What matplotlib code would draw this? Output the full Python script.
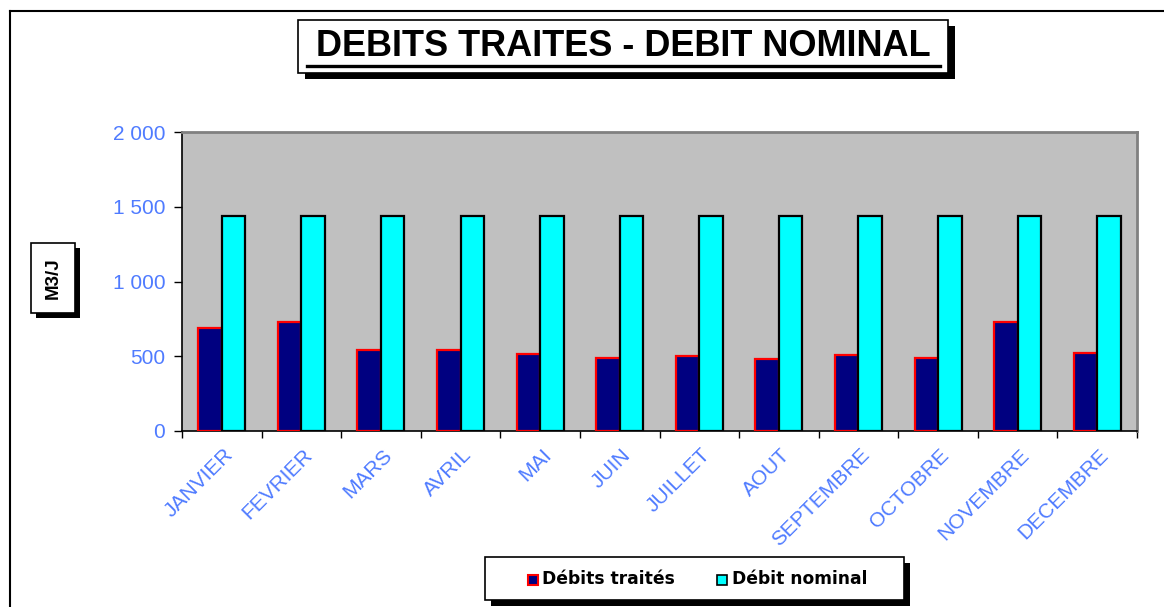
import matplotlib
matplotlib.use("Agg")
import matplotlib.pyplot as plt
from matplotlib.patches import Rectangle
from matplotlib.ticker import FuncFormatter, FixedLocator
import numpy as np

months = ["JANVIER", "FEVRIER", "MARS", "AVRIL", "MAI", "JUIN", "JUILLET",
          "AOUT", "SEPTEMBRE", "OCTOBRE", "NOVEMBRE", "DECEMBRE"]
debits_traites = [690, 730, 540, 540, 517, 490, 499, 481, 508, 490, 730, 523]
debit_nominal = [1440] * 12
y_ticks = [0, 500, 1000, 1500, 2000]

W, H = 1164, 607
fig = plt.figure(figsize=(W / 100, H / 100), dpi=100)
fig.patch.set_facecolor("white")

def fx(px):
    return px / W

def fy(py):
    return 1 - py / H

# outer chart frame
fig.add_artist(plt.Line2D([fx(10), fx(10)], [fy(11), fy(620)], color="black", lw=1.5))
fig.add_artist(plt.Line2D([fx(10), fx(1170)], [fy(11), fy(11)], color="black", lw=1.5))

ax = fig.add_axes([fx(182), fy(431), fx(1137 - 182), (431 - 132) / H])
ax.set_facecolor("#C0C0C0")

x = np.arange(len(months))
bw = 0.295
ax.bar(x - bw / 2, debits_traites, width=bw, color="#000080", edgecolor="#FF0000", linewidth=1.6, zorder=3)
ax.bar(x + bw / 2, debit_nominal, width=bw, color="#00FFFF", edgecolor="black", linewidth=1.6, zorder=3)

ax.set_xlim(-0.5, len(months) - 0.5)
ax.set_ylim(0, 2000)
ax.yaxis.set_major_locator(FixedLocator(y_ticks))
ax.yaxis.set_major_formatter(FuncFormatter(lambda v, p: f"{int(v):,}".replace(",", " ")))

ax.set_xticks(np.arange(-0.5, len(months) + 0.5, 1))
ax.set_xticklabels([])
ax.tick_params(axis="x", direction="out", length=5, width=1, colors="black")
ax.tick_params(axis="y", direction="out", length=6, width=1, colors="black",
               labelcolor="#4F7BFF", labelsize=15, pad=6)
for lab in ax.get_yticklabels():
    lab.set_fontfamily(["Liberation Sans", "DejaVu Sans"])

for i, m in enumerate(months):
    ax.text(i + 0.02, -95, m, rotation=45, ha="right", va="top",
            rotation_mode="anchor", color="#4F7BFF", fontsize=15,
            family=["Liberation Sans", "DejaVu Sans"])

for s in ["left", "bottom"]:
    ax.spines[s].set_color("black")
    ax.spines[s].set_linewidth(1.2)
for s in ["right", "top"]:
    ax.spines[s].set_color("#808080")
    ax.spines[s].set_linewidth(2)

# Title box with shadow
tx0, ty0, tx1, ty1 = 298, 20, 948, 73
fig.add_artist(Rectangle((fx(tx0 + 7), fy(ty1 + 6)), fx(tx1 - tx0), (ty1 - ty0) / H,
                         facecolor="black", edgecolor="none"))
fig.add_artist(Rectangle((fx(tx0), fy(ty1)), fx(tx1 - tx0), (ty1 - ty0) / H,
                         facecolor="white", edgecolor="black", lw=1.2))
fig.text(fx(623), fy(47), "DEBITS TRAITES - DEBIT NOMINAL",
         ha="center", va="center", fontsize=26, fontweight="bold",
         family=["Liberation Sans", "DejaVu Sans"])
fig.add_artist(plt.Line2D([fx(307), fx(940)], [fy(66), fy(66)], color="black", lw=2.4))

# Y label box with shadow
bx0, by0, bx1, by1 = 31, 243, 75, 313
fig.add_artist(Rectangle((fx(bx0 + 5), fy(by1 + 5)), fx(bx1 - bx0), (by1 - by0) / H,
                         facecolor="black", edgecolor="none"))
fig.add_artist(Rectangle((fx(bx0), fy(by1)), fx(bx1 - bx0), (by1 - by0) / H,
                         facecolor="white", edgecolor="black", lw=1.2))
fig.text(fx((bx0 + bx1) / 2), fy((by0 + by1) / 2), "M3/J", rotation=90,
         ha="center", va="center", fontsize=13.5, fontweight="bold",
         family=["Liberation Sans", "DejaVu Sans"])

# Legend box with shadow
lx0, ly0, lx1, ly1 = 485, 557, 904, 600
fig.add_artist(Rectangle((fx(lx0 + 6), fy(ly1 + 6)), fx(lx1 - lx0), (ly1 - ly0) / H,
                         facecolor="black", edgecolor="none"))
fig.add_artist(Rectangle((fx(lx0), fy(ly1)), fx(lx1 - lx0), (ly1 - ly0) / H,
                         facecolor="white", edgecolor="black", lw=1.2))
ly = (ly0 + ly1) / 2 + 1
fig.add_artist(Rectangle((fx(528), fy(ly + 5)), fx(10), 10 / H,
                         facecolor="#000080", edgecolor="#FF0000", lw=1.5))
fig.text(fx(542), fy(ly), "Débits traités", ha="left", va="center", fontsize=12.3,
         fontweight="heavy", family=["DejaVu Sans"])
fig.add_artist(Rectangle((fx(717), fy(ly + 5)), fx(10), 10 / H,
                         facecolor="#00FFFF", edgecolor="black", lw=1.2))
fig.text(fx(732), fy(ly), "Débit nominal", ha="left", va="center", fontsize=12.3,
         fontweight="heavy", family=["DejaVu Sans"])

fig.savefig("out.png", dpi=100)
